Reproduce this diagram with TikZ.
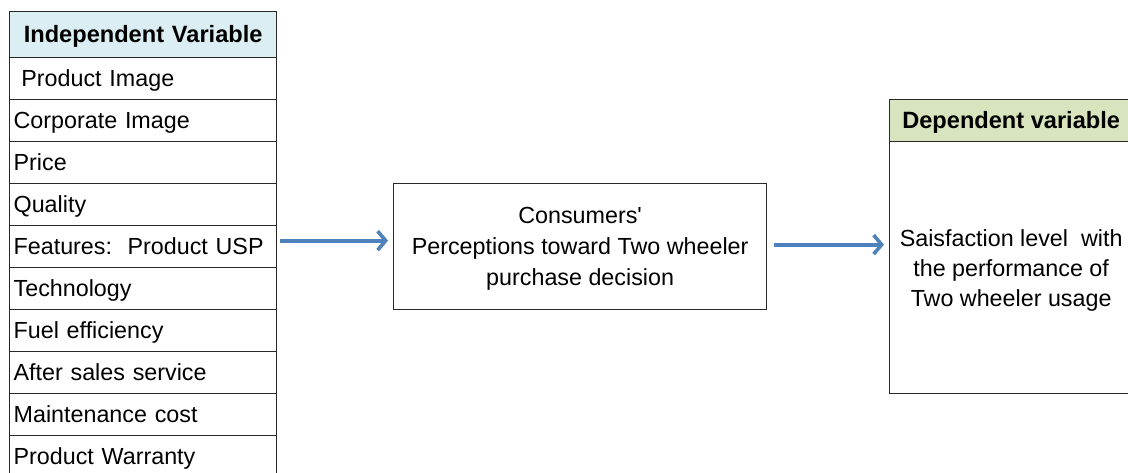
\documentclass[tikz,border=0pt]{standalone}
\usepackage{fontspec}
\setmainfont{Liberation Sans}
\usetikzlibrary{arrows.meta}
\definecolor{ivhead}{RGB}{218,238,243}
\definecolor{dvhead}{RGB}{215,228,189}
\definecolor{arrowblue}{RGB}{79,129,189}
\definecolor{rule}{RGB}{40,40,40}
\tikzset{
  cell/.style={draw=rule, line width=1.3pt, anchor=north west, minimum width=267pt,
    minimum height=42pt, inner xsep=4pt, inner ysep=0pt, text width=259pt, align=left,
    text height=18pt, text depth=2pt,
    font=\fontsize{23.3}{28}\selectfont},
  headcell/.style={cell, fill=ivhead, minimum height=46pt, align=center,
    font=\fontsize{23.6}{28}\selectfont\bfseries},
  boxed/.style={draw=rule, line width=1.3pt, anchor=north west},
  boxtext/.style={align=center, font=\fontsize{23.3}{#1}\selectfont},
  dvheadbox/.style={draw=rule, line width=1.3pt, fill=dvhead, anchor=north west,
    minimum width=243pt, minimum height=42pt, inner sep=0pt,
    text height=18pt, text depth=2pt,
    font=\fontsize{23.6}{28}\selectfont\bfseries},
  arr/.style={draw=arrowblue, line width=4pt,
    -{Straight Barb[length=8pt,width=19pt,line width=3.6pt]}}
}
\begin{document}
\begin{tikzpicture}[x=1pt,y=-1pt]
\useasboundingbox (0,0) rectangle (1128,473);
\clip (0,0) rectangle (1128,473);
\fill[white] (0,0) rectangle (1128,473);

% independent variables table
\node[headcell] (ivh) at (9,11) {Independent Variable};
\node[cell] (r1)  at (9,57)  {\ Product Image};
\node[cell] (r2)  at (9,99)  {Corporate Image};
\node[cell] (r3)  at (9,141) {Price};
\node[cell] (r4)  at (9,183) {Quality};
\node[cell] (r5)  at (9,225) {Features:\ \ Product USP};
\node[cell] (r6)  at (9,267) {Technology};
\node[cell] (r7)  at (9,309) {Fuel efficiency};
\node[cell] (r8)  at (9,351) {After sales service};
\node[cell] (r9)  at (9,393) {Maintenance cost};
\node[cell] (r10) at (9,435) {Product Warranty};

% mediating box
\node[boxed, minimum width=373pt, minimum height=126pt,
  label={[boxtext=31, yshift=-2pt]center:Consumers\textquotesingle\\Perceptions toward Two wheeler\\purchase decision}]
  (mid) at (393,183) {};

% dependent variable box
\node[dvheadbox] (dvh) at (889,99) {Dependent variable};
\node[boxed, minimum width=243pt, minimum height=252pt,
  label={[boxtext=30, yshift=-3pt]center:Saisfaction level\ \ with\\the performance of\\Two wheeler usage}]
  (dvb) at (889,141) {};

% connectors
\draw[arr] ([xshift=3pt,yshift=6pt]r5.east) -- ([xshift=-5pt,yshift=6pt]mid.west);
\draw[arr] ([xshift=7pt,yshift=2pt]mid.east) -- ([xshift=-5pt,yshift=23pt]dvb.west);
\end{tikzpicture}
\end{document}
